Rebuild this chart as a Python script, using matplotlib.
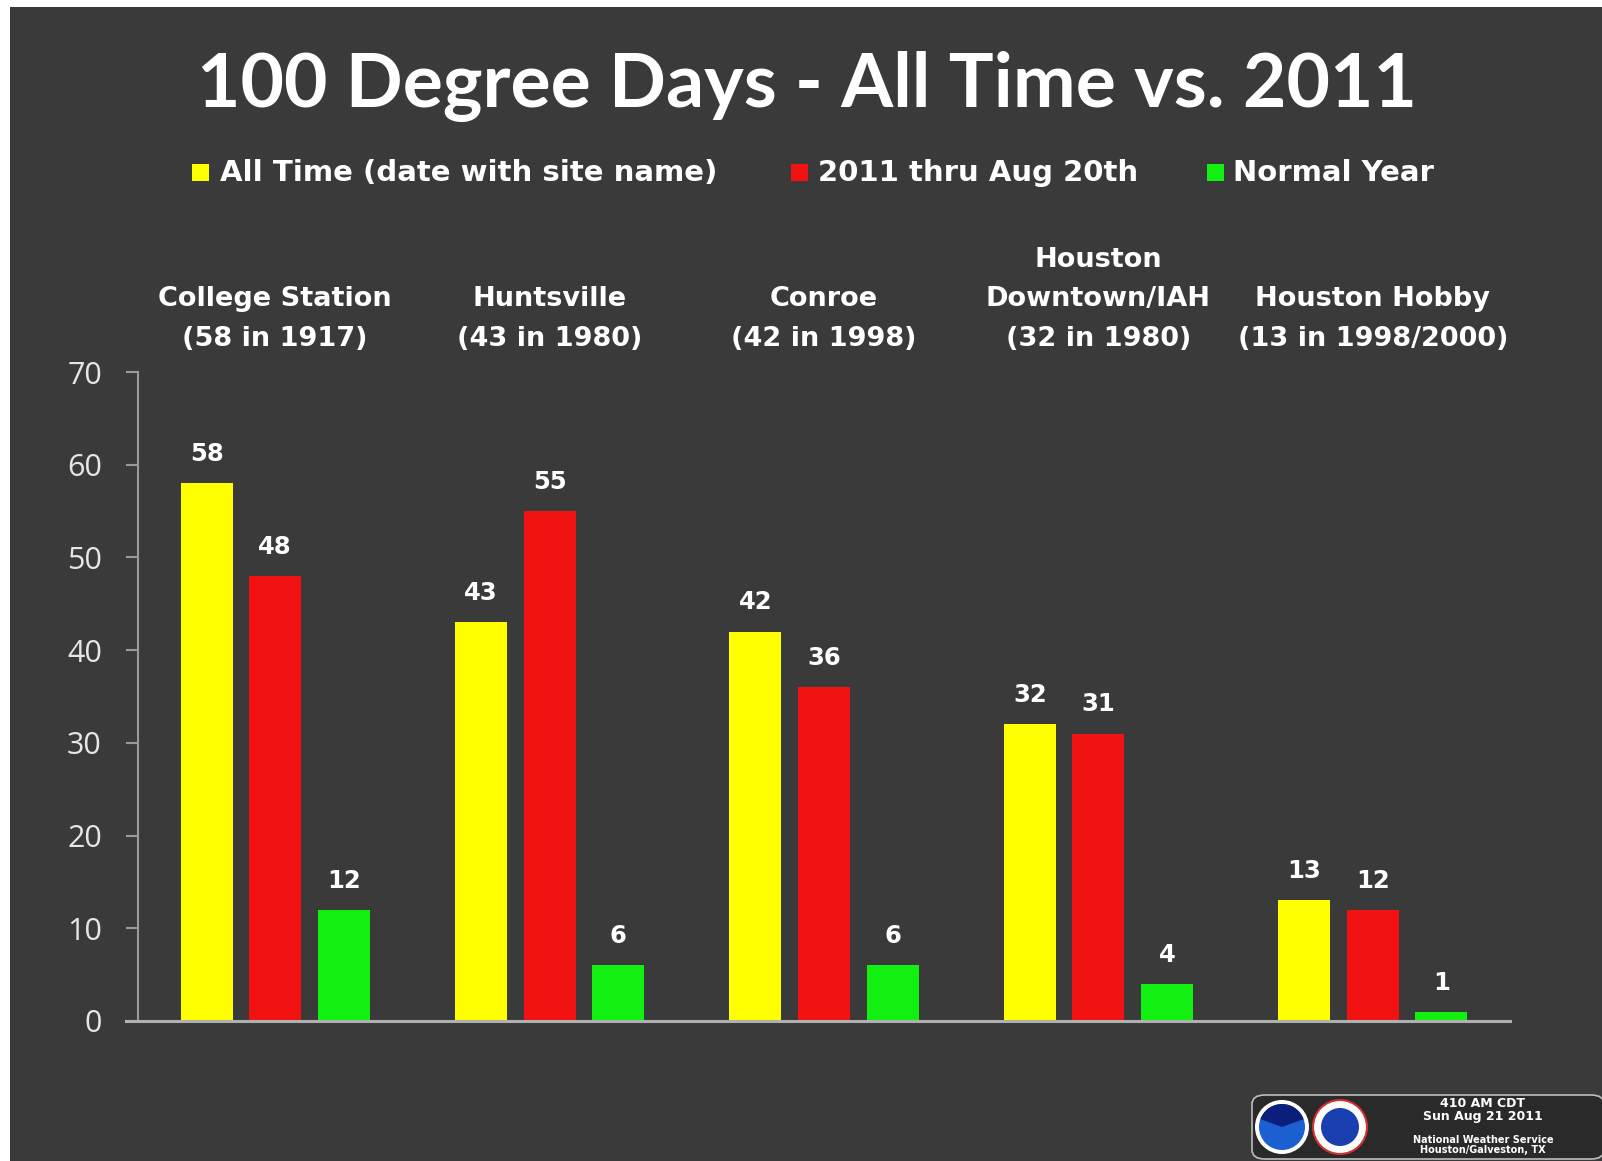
import numpy as np
import matplotlib.pyplot as plt
import matplotlib.transforms as mtransforms
from matplotlib.patches import Rectangle, FancyBboxPatch, Circle, Wedge

#################################
# data
sites = ['College Station\n(58 in 1917)', 'Huntsville\n(43 in 1980)', 'Conroe\n(42 in 1998)',
         'Houston\nDowntown/IAH\n(32 in 1980)', 'Houston Hobby\n(13 in 1998/2000)']
all_time = [58, 43, 42, 32, 13]
thru_2011 = [48, 55, 36, 31, 12]
normal = [12, 6, 6, 4, 1]
series_names = ['All Time (date with site name)', '2011 thru Aug 20th', 'Normal Year']
yticks = [0, 10, 20, 30, 40, 50, 60, 70]
#################################

W, H = 1602, 1161
BG = '#3a3a3a'
YEL, RED, GRN = '#ffff00', '#f21212', '#12f012'
BOLD = 'DejaVu Sans'

def fx(x):
    return x / W

def fy(y):
    return 1 - y / H

fig = plt.figure(figsize=(W / 100, H / 100), dpi=100)
fig.patch.set_facecolor('white')
# dark slide background (thin white strip on top and left)
fig.patches.append(Rectangle((fx(10), 0), 1 - fx(10), fy(7), transform=fig.transFigure,
                             facecolor=BG, edgecolor='none', zorder=-10))

# title
fig.text(fx(807), fy(86), '100 Degree Days - All Time vs. 2011', ha='center', va='center',
         color='white', fontsize=54, fontfamily='Lato', fontweight='bold')

# legend
leg_x = [(192, 220), (791, 818), (1207, 1233)]
for (sx, tx), name, c in zip(leg_x, series_names, [YEL, RED, GRN]):
    fig.patches.append(Rectangle((fx(sx), fy(181)), 17 / W, 17 / H, transform=fig.transFigure,
                                 facecolor=c, edgecolor='none', zorder=1))
    fig.text(fx(tx), fy(173), name, ha='left', va='center', color='white',
             fontsize=21, fontfamily=BOLD, fontweight='bold')

# axes
left, right, top, bottom = 138, 1510, 372, 1021
ax = fig.add_axes([fx(left), fy(bottom), (right - left) / W, (bottom - top) / H])
ax.set_facecolor('none')
x = np.arange(len(sites))
w = 0.19
off = 0.25
for vals, c, d in [(all_time, YEL, -off), (thru_2011, RED, 0), (normal, GRN, off)]:
    bars = ax.bar(x + d, vals, width=w, color=c, edgecolor='none', zorder=2)
    for b, v in zip(bars, vals):
        ax.annotate(str(v), (b.get_x() + b.get_width() / 2, v), xytext=(0, 21),
                    textcoords='offset points', ha='center', va='center', color='white',
                    fontsize=17.5, fontfamily=BOLD, fontweight='bold')

ax.set_xlim(-0.5, 4.5)
ax.set_ylim(0, 70)
ax.set_yticks(yticks)
ax.set_xticks([])
for s in ['top', 'right']:
    ax.spines[s].set_visible(False)
ax.spines['left'].set_color('#9a9a9a')
ax.spines['left'].set_linewidth(1.5)
ax.spines['bottom'].set_visible(False)
# x axis line runs out to the end of the y ticks
ax.plot([-12 / (right - left), 1], [0, 0], transform=ax.transAxes, color='#b0b0b0',
        lw=2.2, clip_on=False, zorder=3)
ax.tick_params(axis='y', direction='out', length=9, width=1.5, color='#9a9a9a',
               labelcolor='#e6e6e6', labelsize=22, pad=17)
for lab in ax.get_yticklabels():
    lab.set_fontfamily('Open Sans')

# site labels above the plot
lab_tr = mtransforms.blended_transform_factory(ax.transData, fig.transFigure)
for i, s in enumerate(sites):
    ax.text(i, fy(346), s, transform=lab_tr, ha='center', va='baseline', color='white',
            fontsize=19.5, fontfamily=BOLD, fontweight='bold', linespacing=1.68,
            multialignment='center')

# NWS stamp in the corner
fig.patches.append(FancyBboxPatch((fx(1252), fy(1159)), 352 / W, 64 / H,
                                  boxstyle='round,pad=0,rounding_size=0.008',
                                  transform=fig.transFigure, facecolor='#2a2a2a',
                                  edgecolor='#bdbdbd', lw=1.2, zorder=-5))
axl = fig.add_axes([fx(1252), fy(1159), 120 / W, 64 / H])
axl.set_xlim(0, 120)
axl.set_ylim(0, 64)
axl.set_aspect('equal')
axl.axis('off')
axl.add_patch(Circle((30, 32), 27, facecolor='white', edgecolor='none'))
axl.add_patch(Circle((30, 32), 23, facecolor='#1c5fd1', edgecolor='none'))
axl.add_patch(Wedge((30, 32), 23, 20, 160, facecolor='#0b1f7a', edgecolor='none'))
axl.add_patch(Circle((88, 32), 27, facecolor='white', edgecolor='#d23030', lw=1.5))
axl.add_patch(Circle((88, 32), 19, facecolor='#1a3fb0', edgecolor='none'))
fig.text(fx(1483), fy(1110), '410 AM CDT\nSun Aug 21 2011', ha='center', va='center',
         color='white', fontsize=9, fontweight='bold', linespacing=1.0)
fig.text(fx(1483), fy(1145), 'National Weather Service\nHouston/Galveston, TX', ha='center',
         va='center', color='white', fontsize=7, fontweight='bold', linespacing=1.0)

plt.savefig('out.png', dpi=100, facecolor=fig.get_facecolor())
